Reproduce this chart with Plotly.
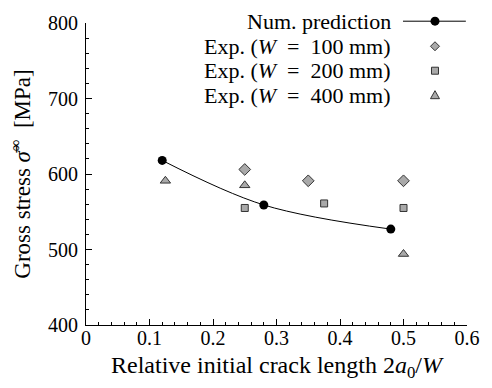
import plotly.graph_objects as go

# Data
num_x = [0.12, 0.28, 0.48]
num_y = [618, 559, 527]
exp100_x = [0.25, 0.35, 0.50]
exp100_y = [606, 591, 591]
exp200_x = [0.25, 0.375, 0.50]
exp200_y = [555, 561, 555]
exp400_x = [0.125, 0.25, 0.50]
exp400_y = [591, 585, 494]

legend_labels = ["Num. prediction", "Exp. (<i>W</i>\u2002=\u2002100 mm)",
                 "Exp. (<i>W</i>\u2002=\u2002200 mm)", "Exp. (<i>W</i>\u2002=\u2002400 mm)"]

FONT = "Liberation Serif"
GRAYFILL = "#a9a9a9"
EDGE = "#333333"

fig = go.Figure()
fig.add_trace(go.Scatter(x=num_x, y=num_y, mode="lines+markers",
                         line=dict(color="black", width=1, shape="spline", smoothing=1.0),
                         marker=dict(symbol="circle", size=9, color="black"),
                         showlegend=False))
fig.add_trace(go.Scatter(x=exp100_x, y=exp100_y, mode="markers",
                         marker=dict(symbol="diamond", size=9, color=GRAYFILL,
                                     line=dict(color=EDGE, width=1)), showlegend=False))
fig.add_trace(go.Scatter(x=exp200_x, y=exp200_y, mode="markers",
                         marker=dict(symbol="square", size=7, color=GRAYFILL,
                                     line=dict(color=EDGE, width=1)), showlegend=False))
fig.add_trace(go.Scatter(x=exp400_x, y=exp400_y, mode="markers",
                         marker=dict(symbol="triangle-up", size=9, color=GRAYFILL,
                                     line=dict(color=EDGE, width=1)), showlegend=False))

rows_y = [1.006, 0.923, 0.842, 0.761]
text_x = 0.807
key_x = 0.916
for lab, yy in zip(legend_labels, rows_y):
    fig.add_annotation(x=text_x, y=yy, xref="paper", yref="paper", text=lab,
                       showarrow=False, xanchor="right", yanchor="middle",
                       font=dict(family=FONT, size=22, color="black"))
shapes = []
shapes.append(dict(type="line", xref="paper", yref="paper", x0=0.832, x1=0.997,
                   y0=rows_y[0], y1=rows_y[0], line=dict(color="black", width=1)))
shapes.append(dict(type="circle", xref="paper", yref="paper", xsizemode="pixel", ysizemode="pixel",
                   xanchor=key_x, yanchor=rows_y[0], x0=-4.5, x1=4.5, y0=-4.5, y1=4.5,
                   fillcolor="black", line=dict(color="black", width=0)))
shapes.append(dict(type="path", xref="paper", yref="paper", xsizemode="pixel", ysizemode="pixel",
                   xanchor=key_x, yanchor=rows_y[1], path="M -4.5 0 L 0 4.5 L 4.5 0 L 0 -4.5 Z",
                   fillcolor=GRAYFILL, line=dict(color=EDGE, width=1)))
shapes.append(dict(type="rect", xref="paper", yref="paper", xsizemode="pixel", ysizemode="pixel",
                   xanchor=key_x, yanchor=rows_y[2], x0=-3.5, x1=3.5, y0=-3.5, y1=3.5,
                   fillcolor=GRAYFILL, line=dict(color=EDGE, width=1)))
shapes.append(dict(type="path", xref="paper", yref="paper", xsizemode="pixel", ysizemode="pixel",
                   xanchor=key_x, yanchor=rows_y[3], path="M -4.5 -3.5 L 4.5 -3.5 L 0 4.5 Z",
                   fillcolor=GRAYFILL, line=dict(color=EDGE, width=1)))

fig.update_layout(
    width=492, height=388,
    margin=dict(l=86, r=13, t=15, b=63),
    paper_bgcolor="white", plot_bgcolor="white",
    font=dict(family=FONT, size=20, color="black"),
    shapes=shapes,
    xaxis=dict(range=[0, 0.6], showgrid=False, zeroline=False,
               showline=True, linecolor="black", linewidth=1,
               ticks="inside", ticklen=6, tickcolor="black",
               tickvals=[0, 0.1, 0.2, 0.3, 0.4, 0.5, 0.6],
               ticktext=["0", "0.1", "0.2", "0.3", "0.4", "0.5", "0.6"],
               minor=dict(dtick=0.02, ticks="inside", ticklen=3, tickcolor="black", showgrid=False),
               ticklabelstandoff=-5,
               title=dict(text="Relative initial crack length 2<i>a</i><sub>0</sub>/<i>W</i>",
                          font=dict(family=FONT, size=24), standoff=8),
               tickfont=dict(family=FONT, size=20)),
    yaxis=dict(range=[400, 800], dtick=100, showgrid=False, zeroline=False,
               showline=True, linecolor="black", linewidth=1,
               ticks="inside", ticklen=6, tickcolor="black",
               minor=dict(dtick=20, ticks="inside", ticklen=3, tickcolor="black", showgrid=False),
               ticklabelstandoff=3,
               title=dict(text="Gross stress <i>σ̄</i><sup>∞</sup>\u2002[MPa]",
                          font=dict(family=FONT, size=23), standoff=10),
               tickfont=dict(family=FONT, size=20)),
)

fig.write_html("out.html")
